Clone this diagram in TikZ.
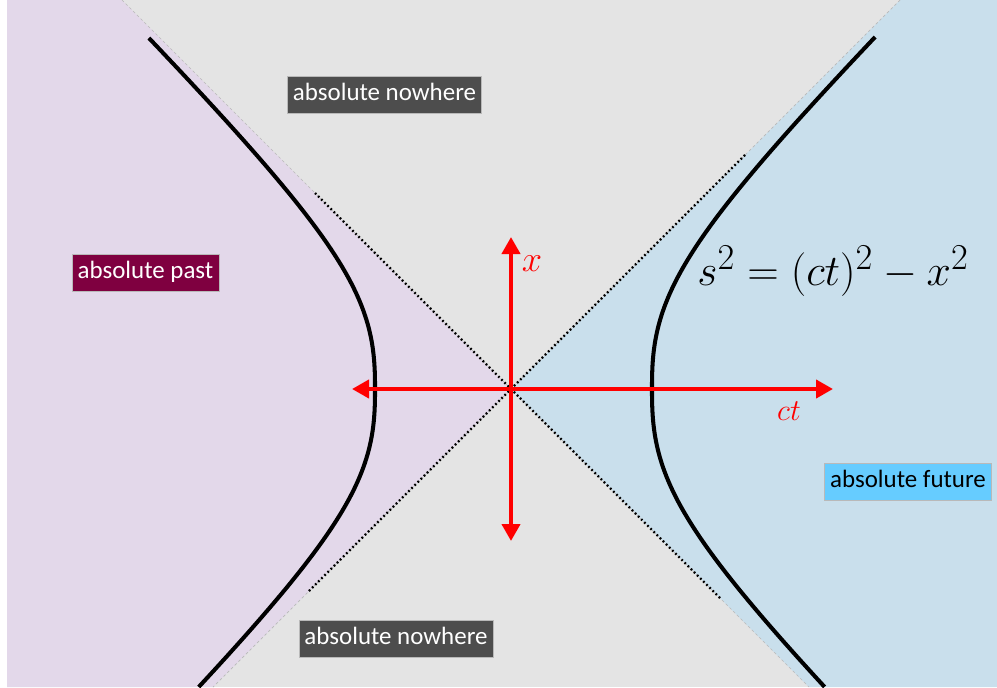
\documentclass[tikz,border=0pt]{standalone}
\usepackage{amsmath}
\usepackage[no-math]{fontspec}
\setmainfont{Carlito}
\usetikzlibrary{arrows.meta, positioning}
\definecolor{bggray}{HTML}{E4E4E4}
\definecolor{pastfill}{HTML}{E3D8EA}
\definecolor{futurefill}{HTML}{C9DFEC}
\definecolor{nowherebox}{HTML}{4D4D4D}
\definecolor{pastbox}{HTML}{7F0040}
\definecolor{futurebox}{HTML}{66CCFF}
\tikzstyle{tag2} = [rectangle, inner xsep=0.11cm, minimum height=0.74cm, text height=10pt, text depth=3pt, font=\fontsize{14.2}{16}\selectfont, draw=gray!55, line width=0.3pt]
\tikzstyle{nowhere2} = [tag2, fill=nowherebox, text=white]
\tikzstyle{past2} = [tag2, fill=pastbox, text=white]
\tikzstyle{future2} = [tag2, fill=futurebox, text=black]
\tikzstyle{axis2} = [red, line width=2.3pt, {Triangle[length=0.34cm,width=0.36cm]}-{Triangle[length=0.34cm,width=0.36cm]}]
\tikzstyle{curve2} = [black, line width=2.3pt]
\tikzstyle{cone2} = [black, line width=1.3pt, dash pattern=on 1pt off 1.5pt]
\tikzstyle{edge2} = [gray!55, line width=0.4pt, dash pattern=on 1.5pt off 1.5pt]

\begin{document}
\begin{tikzpicture}[x=0.02cm, y=-0.02cm]

            % Background and regions
            \useasboundingbox (0,0) rectangle (997,687);
            \fill[white] (0,0) rectangle (997,687);
            \fill[bggray] (7,0) rectangle (997,687);
            \fill[pastfill] (7,0) -- (122,0) -- (511,389) -- (213,687) -- (7,687) -- cycle;
            \fill[futurefill] (900,0) -- (997,0) -- (997,687) -- (809,687) -- (511,389) -- cycle;
            \draw [edge2] (122,0) -- (511,389) -- (213,687);
            \draw [edge2] (900,0) -- (511,389) -- (809,687);

            % Light cone
            \coordinate (origin) at (511,389);
            \draw [cone2] (315,193) -- (origin) -- (721,599);
            \draw [cone2] (745,155) -- (origin) -- (308,592);

            % Hyperbolas
            \draw [curve2] plot[domain=-3.51:2.98, samples=120, variable=\t, smooth]
                ({511-100*((abs(\t))^2.6+1.36^2.6)^(1/2.6)}, {389+100*\t});
            \draw [curve2] plot[domain=-3.52:2.98, samples=120, variable=\t, smooth]
                ({511+100*((abs(\t))^2.6+1.41^2.6)^(1/2.6)}, {389+100*\t});

            % Place nodes
            \node (nowhere1) [nowhere2] at (384.5,94.5) {absolute nowhere};
            \node (nowhere3) [nowhere2] at (396,638.5) {absolute nowhere};
            \node (past) [past2] at (145.5,272.5) {absolute past};
            \node (future) [future2] at (908,481.5) {absolute future};
            \node (eq) [anchor=base west, inner sep=0pt, font=\fontsize{28}{32}\selectfont] at (697,285) {$s^2 = (ct)^2 - x^2$};
            \node (xlab) [red, font=\fontsize{20}{24}\selectfont] at (532,264) {$x$};
            \node (ctlab) [red, font=\fontsize{19}{22}\selectfont] at (789,411) {$ct$};

            % Axes
            \coordinate (ctneg) at (352,389);
            \coordinate (ctpos) at (833,389);
            \coordinate (xpos) at (511,237);
            \coordinate (xneg) at (511,541);
            \draw [axis2] (ctneg) -- (ctpos);
            \draw [axis2] (xneg) -- (xpos);

        \end{tikzpicture}
\end{document}
